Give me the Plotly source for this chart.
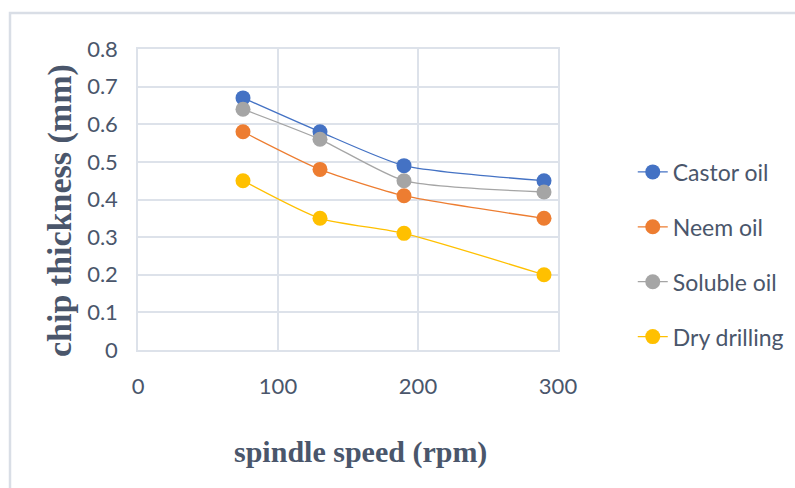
import plotly.graph_objects as go

speed = [75, 130, 190, 290]
castor = [0.67, 0.58, 0.49, 0.45]
neem = [0.58, 0.48, 0.41, 0.35]
soluble = [0.64, 0.56, 0.45, 0.42]
dry = [0.45, 0.35, 0.31, 0.20]

names = ["Castor oil", "Neem oil", "Soluble oil", "Dry drilling"]
colors = ["#4472C4", "#ED7D31", "#A5A5A5", "#FFC000"]
series = [castor, neem, soluble, dry]

x_ticks = [0, 100, 200, 300]
y_ticks = [0, 0.1, 0.2, 0.3, 0.4, 0.5, 0.6, 0.7, 0.8]

txt = "#4a566b"
grid = "#dde2ea"
sans = "Lato, Liberation Sans"
serif = "Liberation Serif, Times New Roman"

fig = go.Figure()
for i, (n, c, s) in enumerate(zip(names, colors, series)):
    fig.add_trace(go.Scatter(
        x=speed, y=s, name=n, mode="lines+markers",
        line=dict(color=c, width=1.3, shape="spline", smoothing=0.6),
        marker=dict(color=c, size=15),
        legendgroup=n, legendrank=i + 1,
    ))

fig.update_layout(
    width=795, height=488,
    margin=dict(l=138, r=237, t=49, b=138, autoexpand=False),
    paper_bgcolor="white", plot_bgcolor="white",
    showlegend=True,
    legend=dict(
        x=1.178, y=0.663, xanchor="left", yanchor="top",
        font=dict(family=sans, size=23, color=txt),
        tracegroupgap=22, traceorder="grouped", itemwidth=30,
        bgcolor="rgba(0,0,0,0)",
    ),
    font=dict(family=sans, color=txt),
)

fig.update_xaxes(
    range=[0, 300], tickvals=x_ticks, ticktext=[str(v) for v in x_ticks],
    showgrid=True, gridcolor=grid, gridwidth=1.5,
    showline=True, linecolor=grid, linewidth=1.5, mirror=True,
    zeroline=False, ticks="", ticklabelstandoff=16,
    tickfont=dict(size=22, color=txt),
)
fig.update_yaxes(
    range=[0, 0.8], tickvals=y_ticks, ticktext=[("0" if v == 0 else f"{v:.1f}") for v in y_ticks],
    showgrid=True, gridcolor=grid, gridwidth=1.5,
    showline=True, linecolor=grid, linewidth=1.5, mirror=True,
    zeroline=False, ticks="", ticklabelstandoff=14,
    tickfont=dict(size=22, color=txt),
)

fig.add_annotation(
    text="chip thickness (mm)", textangle=-90, showarrow=False,
    xref="paper", yref="paper", x=(60 - 138) / 420, y=(350 - 211) / 301,
    xanchor="center", yanchor="middle",
    font=dict(family=serif, size=34, color=txt, weight="bold"),
)
fig.add_annotation(
    text="spindle speed (rpm)", showarrow=False,
    xref="paper", yref="paper", x=(360 - 138) / 420, y=(350 - 452) / 301,
    xanchor="center", yanchor="middle",
    font=dict(family=serif, size=30, color=txt, weight="bold"),
)

# outer chart-area frame (decorative)
fig.add_shape(type="rect", xref="paper", yref="paper",
              x0=(10 - 138) / 420, x1=(820 - 138) / 420,
              y0=(350 - 500) / 301, y1=(350 - 13) / 301,
              line=dict(color="#d9dee6", width=2.5), fillcolor="rgba(0,0,0,0)", layer="below")

fig.write_html("out.html")
